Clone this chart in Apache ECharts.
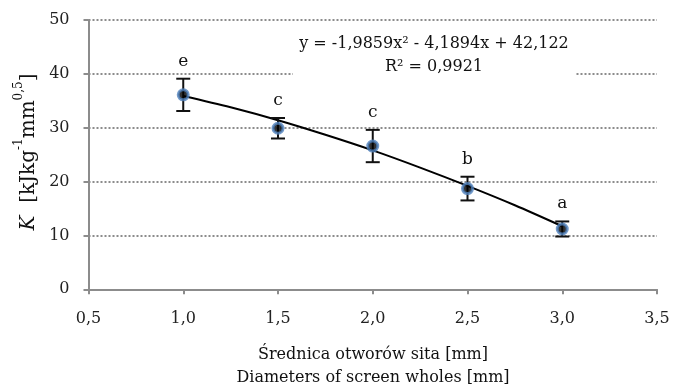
<!DOCTYPE html>
<html>
<head>
<meta charset="utf-8">
<script src="https://cdn.jsdelivr.net/npm/echarts@6/dist/echarts.min.js"></script>
<style>
  html, body { margin: 0; padding: 0; background: #fff; }
  #chart { width: 686px; height: 389px; }
</style>
</head>
<body>
<div id="chart"></div>
<script>
// średnica otworów sita [mm]
var diameters = [1.0, 1.5, 2.0, 2.5, 3.0];
// wartości K (średnie)
var kValues = [36.1, 29.9, 26.6, 18.7, 11.2];
// odchylenia (error bars)
var kErrors = [3.0, 1.9, 3.0, 2.2, 1.4];
// grupy jednorodne
var groups = ['e', 'c', 'c', 'b', 'a'];
// linia trendu
var trendX = [1.0, 1.25, 1.5, 1.75, 2.0, 2.25, 2.5, 2.75, 3.0];
var trendY = [35.9, 33.8, 31.4, 28.7, 25.8, 22.6, 19.2, 15.6, 11.7];

var font = '"DejaVu Serif", "Liberation Serif", serif';

var pointData = [];
var errData = [];
var trendData = [];
for (var i = 0; i < diameters.length; i++) {
  pointData.push([diameters[i], kValues[i]]);
  errData.push([diameters[i], kValues[i] - kErrors[i], kValues[i] + kErrors[i], groups[i]]);
}
for (var j = 0; j < trendX.length; j++) {
  trendData.push([trendX[j], trendY[j]]);
}

var myChart = echarts.init(document.getElementById('chart'));

var option = {
  animation: false,
  backgroundColor: '#fff',
  textStyle: { fontFamily: font },
  grid: { left: 88.5, right: 29, top: 20, bottom: 99.7, containLabel: false, outerBoundsMode: 'none' },
  xAxis: {
    type: 'value',
    min: 0.5,
    max: 3.5,
    interval: 0.5,
    axisLine: { lineStyle: { color: '#8c8c8c', width: 2 } },
    axisTick: { show: true, length: 5, lineStyle: { color: '#8c8c8c', width: 2 } },
    splitLine: { show: false },
    axisLabel: {
      color: '#222', fontSize: 16, fontFamily: font, margin: 22,
      formatter: function (v) { return v.toFixed(1).replace('.', ','); }
    }
  },
  yAxis: {
    type: 'value',
    min: 0,
    max: 50,
    interval: 10,
    axisLine: { show: true, lineStyle: { color: '#8c8c8c', width: 2 } },
    axisTick: { show: true, length: 5, lineStyle: { color: '#8c8c8c', width: 2 } },
    splitLine: { show: true, lineStyle: { color: '#8c8c8c', width: 2, type: [2, 2] } },
    axisLabel: { color: '#222', fontSize: 16, fontFamily: font, margin: 19 }
  },
  graphic: [
    {
      // tytuł osi Y
      type: 'text',
      x: 26,
      y: 152,
      rotation: Math.PI / 2,
      style: {
        text: '{k|K}{t|  [kJkg}{s|-1}{t|mm}{s|0,5}{t|]}',
        align: 'center',
        verticalAlign: 'middle',
        rich: {
          k: { fontSize: 20, fontStyle: 'italic', fontFamily: font, fill: '#111', lineHeight: 26, verticalAlign: 'bottom' },
          t: { fontSize: 20, fontFamily: font, fill: '#111', lineHeight: 26, verticalAlign: 'bottom' },
          s: { fontSize: 12, fontFamily: font, fill: '#111', lineHeight: 14, verticalAlign: 'top' }
        }
      }
    },
    {
      type: 'rect',
      shape: { x: 293, y: 30, width: 282, height: 50 },
      style: { fill: '#fff' },
      z: 5
    },
    {
      type: 'text',
      x: 434,
      y: 32,
      z: 6,
      style: {
        text: 'y = -1,9859x² - 4,1894x + 42,122\nR² = 0,9921',
        font: '16px ' + font,
        fill: '#111',
        align: 'center',
        lineHeight: 23
      }
    },
    {
      type: 'text',
      x: 373,
      y: 343,
      style: {
        text: 'Średnica otworów sita [mm]\nDiameters of screen wholes [mm]',
        font: '16px ' + font,
        fill: '#111',
        align: 'center',
        lineHeight: 23
      }
    }
  ],
  series: [
    {
      name: 'trend',
      type: 'line',
      data: trendData,
      smooth: 0.3,
      symbol: 'none',
      lineStyle: { color: '#000', width: 2 },
      z: 3
    },
    {
      name: 'error',
      type: 'custom',
      data: errData,
      z: 4,
      renderItem: function (params, api) {
        var x = api.value(0);
        var low = api.coord([x, api.value(1)]);
        var high = api.coord([x, api.value(2)]);
        var cap = 7;
        var st = { stroke: '#111', lineWidth: 2 };
        return {
          type: 'group',
          children: [
            { type: 'line', shape: { x1: high[0], y1: high[1], x2: low[0], y2: low[1] }, style: st },
            { type: 'line', shape: { x1: high[0] - cap, y1: high[1], x2: high[0] + cap, y2: high[1] }, style: st },
            { type: 'line', shape: { x1: low[0] - cap, y1: low[1], x2: low[0] + cap, y2: low[1] }, style: st },
            {
              type: 'text',
              x: high[0],
              y: high[1] - 9,
              style: {
                text: errData[params.dataIndex][3],
                font: '17px ' + font,
                fill: '#111',
                align: 'center',
                verticalAlign: 'bottom'
              }
            }
          ]
        };
      }
    },
    {
      name: 'K',
      type: 'scatter',
      data: pointData,
      symbol: 'circle',
      symbolSize: 10,
      itemStyle: { color: '#000', borderColor: '#4f81bd', borderWidth: 3 },
      z: 5
    }
  ]
};
myChart.setOption(option);
</script>
</body>
</html>
